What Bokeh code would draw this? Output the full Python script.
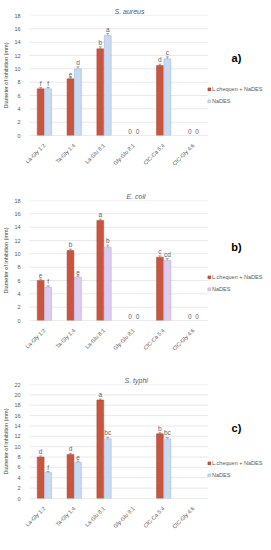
from bokeh.plotting import figure
from bokeh.layouts import column
from bokeh.models import (ColumnDataSource, Legend, LegendItem, Label, Whisker, Range1d,
                          FixedTicker)
from bokeh.transform import dodge
from bokeh.embed import file_html
from bokeh.resources import INLINE
from bokeh.core.properties import value

categories = ["La-Gly 1:2", "Ta-Gly 1:4", "La-Glu 8:1", "Gly-Glu 8:1", "ClC-Ca 5:4", "ClC-Gly 4:6"]
series_names = ["L.chequen + NaDES", "NaDES"]

aureus_lc = [7.0, 8.5, 13.0, 0.0, 10.5, 0.0]
aureus_na = [7.0, 10.0, 15.0, 0.0, 11.5, 0.0]
aureus_err_lc = [0.2, 0.2, 0.3, 0.0, 0.2, 0.0]
aureus_err_na = [0.2, 0.3, 0.3, 0.0, 0.3, 0.0]
aureus_let_lc = ["f", "e", "b", "0", "d", "0"]
aureus_let_na = ["f", "d", "a", "0", "c", "0"]

coli_lc = [6.0, 10.5, 15.0, 0.0, 9.5, 0.0]
coli_na = [5.0, 6.5, 11.0, 0.0, 9.0, 0.0]
coli_err_lc = [0.2, 0.2, 0.2, 0.0, 0.2, 0.0]
coli_err_na = [0.2, 0.2, 0.3, 0.0, 0.3, 0.0]
coli_let_lc = ["e", "b", "a", "0", "c", "0"]
coli_let_na = ["f", "e", "b", "0", "cd", "0"]

typhi_lc = [8.0, 8.5, 19.0, 0.0, 12.5, 0.0]
typhi_na = [5.0, 7.0, 11.5, 0.0, 11.5, 0.0]
typhi_err_lc = [0.2, 0.2, 0.2, 0.0, 0.2, 0.0]
typhi_err_na = [0.2, 0.2, 0.3, 0.0, 0.3, 0.0]
typhi_let_lc = ["d", "d", "a", "", "b", ""]
typhi_let_na = ["f", "e", "bc", "", "bc", ""]

titles = ["S. aureus", "E. coli", "S. typhi"]
panel_tags = ["a)", "b)", "c)"]
y_max = [18, 18, 22]

FONT = "Liberation Sans"
RED = "#c8553f"
RED_LINE = "#b04a36"
BLUE = "#c9dbf1"
BLUE_LINE = "#a3bbdc"
LAV = "#dccdf0"
LAV_LINE = "#bba7dc"

FIG_W = 263
BORDER_L = 17
FRAME_W = FIG_W - BORDER_L
CAT_PX = 188.0  # pixels spanned by the six categories
NAN = float("nan")


def make_panel(lc, na, elc, ena, llc, lna, title, tag, ymax, na_fill, na_line,
               height, top, frame_h, title_off, tag_y, leg_y, show_zero):
    n = len(categories)
    pos = list(range(1, n + 1))
    x_end = 0.5 + n * FRAME_W / CAT_PX
    p = figure(width=FIG_W, height=height, output_backend="svg", toolbar_location=None,
               x_range=Range1d(0.5, x_end), y_range=Range1d(0, ymax),
               min_border_left=BORDER_L, min_border_right=0, min_border_top=top,
               min_border_bottom=height - top - frame_h)
    p.outline_line_color = None
    p.xgrid.grid_line_color = None
    p.ygrid.grid_line_color = None

    gy = list(range(2, ymax + 1, 2))
    p.segment(x0=[0.5] * len(gy), x1=[n + 0.5] * len(gy), y0=gy, y1=gy,
              line_color="#e3e3e3", line_width=0.8)
    p.segment(x0=[0.5], x1=[n + 0.5], y0=[0], y1=[0], line_color="#cfcfcf", line_width=0.8)

    def up(vals, errs):
        return [v + e if v > 0 else NAN for v, e in zip(vals, errs)]

    def lo(vals, errs):
        return [v - e if v > 0 else NAN for v, e in zip(vals, errs)]

    src = ColumnDataSource(dict(pos=pos, lc=lc, na=na,
                                lc_a=[1.0 if v > 0 else 0.0 for v in lc],
                                na_a=[1.0 if v > 0 else 0.0 for v in na],
                                lc_up=up(lc, elc), lc_lo=lo(lc, elc),
                                na_up=up(na, ena), na_lo=lo(na, ena),
                                llc=[("" if l == "0" else l) for l in llc],
                                lna=[("" if l == "0" else l) for l in lna],
                                zlc=[("0" if (l == "0" and show_zero) else "") for l in llc],
                                zna=[("0" if (l == "0" and show_zero) else "") for l in lna]))
    off = 0.125
    r1 = p.vbar(x=dodge("pos", -off), top="lc", width=0.23, source=src,
                fill_color=RED, line_color=RED_LINE, line_width=0.5, line_alpha="lc_a")
    r2 = p.vbar(x=dodge("pos", off), top="na", width=0.23, source=src,
                fill_color=na_fill, line_color=na_line, line_width=0.6, line_alpha="na_a")

    for xo, upf, lof in ((-off, "lc_up", "lc_lo"), (off, "na_up", "na_lo")):
        w = Whisker(base=dodge("pos", xo), upper=upf, lower=lof, source=src,
                    line_color="#808080", line_width=0.7)
        for h in (w.upper_head, w.lower_head):
            h.size = 3
            h.line_color = "#808080"
            h.line_width = 0.7
        p.add_layout(w)

    for xo, yfield, tfield in ((-off, "lc_up", "llc"), (off, "na_up", "lna")):
        p.text(x=dodge("pos", xo), y=yfield, text=tfield, source=src,
               text_align="center", text_baseline="bottom", y_offset=-1,
               text_font=value(FONT), text_font_size="6.5px", text_color="#5f5f5f")
    for xo, tfield in ((-off, "zlc"), (off, "zna")):
        p.text(x=dodge("pos", xo), y=0, text=tfield, source=src,
               text_align="center", text_baseline="bottom", y_offset=-2,
               text_font=value(FONT), text_font_size="6.5px", text_color="#5f5f5f")

    p.yaxis.ticker = FixedTicker(ticks=list(range(0, ymax + 1, 2)))
    p.yaxis.axis_line_color = None
    p.yaxis.major_tick_line_color = None
    p.yaxis.minor_tick_line_color = None
    p.yaxis.major_label_text_font = FONT
    p.yaxis.major_label_text_font_size = "5.5px"
    p.yaxis.major_label_text_color = "#595959"
    p.yaxis.major_label_standoff = 3
    p.yaxis.axis_label = "Diameter of inhibition (mm)"
    p.yaxis.axis_label_text_font = FONT
    p.yaxis.axis_label_text_font_size = "5.5px"
    p.yaxis.axis_label_text_font_style = "normal"
    p.yaxis.axis_label_text_color = "#404040"
    p.yaxis.axis_label_standoff = 2

    p.xaxis.ticker = FixedTicker(ticks=pos)
    p.xaxis.major_label_overrides = {k: c for k, c in zip(pos, categories)}
    p.xaxis.axis_line_color = None
    p.xaxis.major_tick_line_color = None
    p.xaxis.minor_tick_line_color = None
    p.xaxis.major_label_orientation = 0.785
    p.xaxis.major_label_text_font = FONT
    p.xaxis.major_label_text_font_size = "5.5px"
    p.xaxis.major_label_text_color = "#595959"
    p.xaxis.major_label_standoff = 3

    p.title.text = title
    p.title.align = "left"
    p.title.offset = title_off
    p.title.standoff = 2
    p.title.text_font = FONT
    p.title.text_font_size = "7px"
    p.title.text_font_style = "italic"
    p.title.text_color = "#595959"

    p.add_layout(Label(x=207, y=tag_y, x_units="screen", y_units="screen", text=tag,
                       text_font=FONT, text_font_size="11px", text_font_style="bold",
                       text_color="#000000", text_align="center", text_baseline="middle"))

    leg = Legend(items=[LegendItem(label=series_names[0], renderers=[r1]),
                        LegendItem(label=series_names[1], renderers=[r2])],
                 location=(178, leg_y), orientation="vertical",
                 label_text_font=FONT, label_text_font_size="5.5px",
                 label_text_color="#595959", glyph_width=4, glyph_height=4,
                 label_height=8, label_standoff=1, spacing=4, padding=0, margin=0,
                 border_line_color=None, background_fill_alpha=0)
    p.add_layout(leg)
    return p


pa = make_panel(aureus_lc, aureus_na, aureus_err_lc, aureus_err_na, aureus_let_lc,
                aureus_let_na, titles[0], panel_tags[0], y_max[0], BLUE, BLUE_LINE,
                178, 15, 120, 85, 78, 30, True)
pb = make_panel(coli_lc, coli_na, coli_err_lc, coli_err_na, coli_let_lc,
                coli_let_na, titles[1], panel_tags[1], y_max[1], LAV, LAV_LINE,
                178, 22, 121, 97, 74, 27, True)
pc = make_panel(typhi_lc, typhi_na, typhi_err_lc, typhi_err_na, typhi_let_lc,
                typhi_let_na, titles[2], panel_tags[2], y_max[2], BLUE, BLUE_LINE,
                178, 28, 121, 95, 71, 19, False)

layout = column(pa, pb, pc, spacing=0)
open("out.html", "w").write(file_html(layout, INLINE))
